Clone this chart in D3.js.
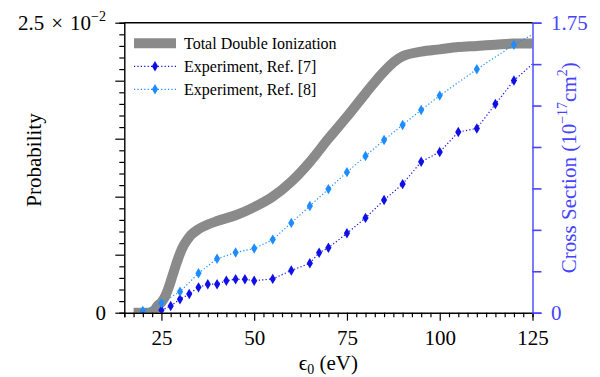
<!DOCTYPE html>
<html>
<head>
<meta charset="utf-8">
<script src="https://cdn.jsdelivr.net/npm/d3@7"></script>
<style>
  body { margin: 0; background: #fff; }
  text { font-family: "Liberation Serif", "Times New Roman", serif; }
</style>
</head>
<body>
<svg id="chart" width="600" height="377"></svg>
<script>
// total double ionization probability (left axis)
const total_ev = [17.5, 20, 22, 23, 24, 25, 26, 27, 28, 29, 30, 31, 32, 33, 35, 37.5, 40, 45, 50, 55, 60, 65, 70, 75, 80, 85, 88, 90, 95, 100, 105, 110, 115, 120, 125];
const total_prob = [0, 0, 0, 0.0002, 0.0006, 0.0009, 0.0014, 0.0022, 0.0032, 0.0042, 0.0051, 0.0058, 0.0063, 0.0067, 0.0072, 0.0076, 0.0079, 0.0084, 0.0091, 0.0100, 0.0113, 0.0130, 0.0150, 0.0169, 0.0189, 0.0208, 0.0217, 0.0221, 0.0225, 0.0227, 0.0229, 0.0230, 0.0231, 0.0232, 0.0232];

// experiment, ref [7] (cross section, 1e-17 cm^2)
const ref7_ev = [25, 27.5, 30, 32.5, 35, 37.5, 40, 42.5, 45, 47.5, 50, 55, 60, 65, 67.5, 70, 75, 80, 85, 90, 95, 100, 105, 110, 115, 120, 130];
const ref7_cs = [0.015, 0.04, 0.081, 0.113, 0.153, 0.172, 0.172, 0.193, 0.202, 0.202, 0.193, 0.204, 0.255, 0.298, 0.362, 0.392, 0.479, 0.572, 0.680, 0.776, 0.911, 0.970, 1.090, 1.112, 1.259, 1.401, 1.60];

// experiment, ref [8]
const ref8_ev = [20, 25, 30, 35, 40, 45, 50, 55, 60, 65, 70, 75, 80, 85, 90, 95, 100, 110, 120, 130];
const ref8_cs = [0.01, 0.058, 0.127, 0.238, 0.326, 0.363, 0.387, 0.441, 0.542, 0.644, 0.746, 0.848, 0.946, 1.042, 1.133, 1.223, 1.310, 1.469, 1.617, 1.74];

const x_ticks = [25, 50, 75, 100, 125];
const legend_labels = ["Total Double Ionization", "Experiment, Ref. [7]", "Experiment, Ref. [8]"];

const c_gray = "#8a8a8a", c_ref7 = "#0f0fe6", c_ref8 = "#1e8cff", c_right = "#4444ff";
const fs = 21;

const L = 124.3, R = 532.5, T = 22.7, B = 312.7;

function make_scales() {
  return {
    x: d3.scaleLinear().domain([15, 125]).range([L, R]),
    yl: d3.scaleLinear().domain([0, 0.025]).range([B, T]),
    yr: d3.scaleLinear().domain([0, 1.75]).range([B, T])
  };
}
const s = make_scales();
const svg = d3.select("#chart");

svg.append("defs").append("clipPath").attr("id", "plotclip")
  .append("rect").attr("x", L).attr("y", T).attr("width", R - L).attr("height", B - T);

const plot = svg.append("g").attr("clip-path", "url(#plotclip)");

// gray total curve
const total = total_ev.map((e, i) => [e, total_prob[i]]);
plot.append("path")
  .attr("d", d3.line().x(d => s.x(d[0])).y(d => s.yl(d[1])).curve(d3.curveMonotoneX)(total))
  .attr("fill", "none").attr("stroke", c_gray).attr("stroke-width", 10);

const diamond = "M0,-5.2L3.1,0L0,5.2L-3.1,0Z";

function draw_series(evs, vals, color) {
  const pts = evs.map((e, i) => [e, vals[i]]);
  plot.append("path")
    .attr("d", d3.line().x(d => s.x(d[0])).y(d => s.yr(d[1]))(pts))
    .attr("fill", "none").attr("stroke", color).attr("stroke-width", 1.2)
    .attr("stroke-dasharray", "1.2,2.2");
  plot.selectAll(null).data(pts).enter().append("path")
    .attr("d", diamond)
    .attr("transform", d => `translate(${s.x(d[0])},${s.yr(d[1])})`)
    .attr("fill", color);
}
draw_series(ref7_ev, ref7_cs, c_ref7);
draw_series(ref8_ev, ref8_cs, c_ref8);

// bottom axis
const bottom = svg.append("g").attr("transform", `translate(0,${B})`);
bottom.call(d3.axisBottom(s.x).tickValues(d3.range(15, 125.1, 2.5)).tickSize(4.5).tickFormat(""));
bottom.call(g => g.selectAll(".tick line").filter(d => x_ticks.includes(d)).attr("y2", 8));
svg.append("g").attr("transform", `translate(0,${B})`)
  .call(d3.axisBottom(s.x).tickValues(x_ticks).tickSize(0).tickPadding(17))
  .call(g => g.select(".domain").remove())
  .call(g => g.selectAll("text").attr("font-size", fs).attr("fill", "#000")
    .attr("font-family", "Liberation Serif"));

// left axis
const left = svg.append("g").attr("transform", `translate(${L},0)`);
left.call(d3.axisLeft(s.yl).tickValues(d3.range(0, 0.02501, 0.001)).tickSize(5).tickFormat(""));
left.call(g => g.selectAll(".tick line").filter((d, i) => i % 5 === 0).attr("x2", -9));

// right axis
const right = svg.append("g").attr("transform", `translate(${R},0)`);
right.call(d3.axisRight(s.yr).tickValues(d3.range(0, 1.751, 0.25)).tickSize(9).tickFormat(""));
right.selectAll("line, path").attr("stroke", c_right).attr("stroke-width", 1.6);

svg.selectAll(".domain").attr("stroke-width", 1.4);
bottom.selectAll("line").attr("stroke-width", 1.2);
left.selectAll("line").attr("stroke-width", 1.2);

// top spine
svg.append("line").attr("x1", L).attr("x2", R).attr("y1", T).attr("y2", T)
  .attr("stroke", "#000").attr("stroke-width", 1.4);

// left tick labels
svg.append("text").attr("x", 106).attr("y", B).attr("dy", "0.35em")
  .attr("text-anchor", "end").attr("font-size", fs).text("0");
const top_lab = svg.append("text").attr("x", 106).attr("y", T).attr("dy", "0.35em")
  .attr("text-anchor", "end").attr("font-size", fs);
top_lab.append("tspan").text("2.5");
top_lab.append("tspan").attr("dx", 7).text("×");
top_lab.append("tspan").attr("dx", 7).text("10");
top_lab.append("tspan").attr("dy", -9).attr("font-size", 14).text("−2");

// right tick labels
svg.append("text").attr("x", 551).attr("y", B).attr("dy", "0.35em")
  .attr("font-size", fs).attr("fill", c_right).text("0");
svg.append("text").attr("x", 551).attr("y", T).attr("dy", "0.35em")
  .attr("font-size", fs).attr("fill", c_right).text("1.75");

// axis titles
svg.append("text").attr("transform", `translate(41,160) rotate(-90)`)
  .attr("text-anchor", "middle").attr("font-size", fs).text("Probability");

const rt = svg.append("text").attr("transform", `translate(576,${(T + B) / 2}) rotate(-90)`)
  .attr("text-anchor", "middle").attr("font-size", fs).attr("fill", c_right);
rt.append("tspan").text("Cross Section (10");
rt.append("tspan").attr("dy", -9).attr("font-size", 14).text("−17");
rt.append("tspan").attr("dy", 9).text("cm");
rt.append("tspan").attr("dy", -9).attr("font-size", 14).text("2");
rt.append("tspan").attr("dy", 9).text(")");

const xt = svg.append("text").attr("x", (L + R) / 2).attr("y", 370)
  .attr("text-anchor", "middle").attr("font-size", fs);
xt.append("tspan").text("ϵ");
xt.append("tspan").attr("dy", 4).attr("font-size", 14).text("0");
xt.append("tspan").attr("dy", -4).text(" (eV)");

// legend
const leg = svg.append("g");
const rows = [43.3, 66.3, 89.3];
leg.append("line").attr("x1", 134).attr("x2", 176).attr("y1", rows[0]).attr("y2", rows[0])
  .attr("stroke", c_gray).attr("stroke-width", 10);
[c_ref7, c_ref8].forEach((c, i) => {
  leg.append("line").attr("x1", 134).attr("x2", 176).attr("y1", rows[i + 1]).attr("y2", rows[i + 1])
    .attr("stroke", c).attr("stroke-width", 1.2).attr("stroke-dasharray", "1.2,2.2");
  leg.append("path").attr("d", diamond).attr("transform", `translate(155,${rows[i + 1]})`).attr("fill", c);
});
leg.selectAll("text.lab").data(legend_labels).enter().append("text")
  .attr("x", 184).attr("y", (d, i) => rows[i]).attr("dy", "0.35em")
  .attr("font-size", 16).text(d => d);
</script>
</body>
</html>
